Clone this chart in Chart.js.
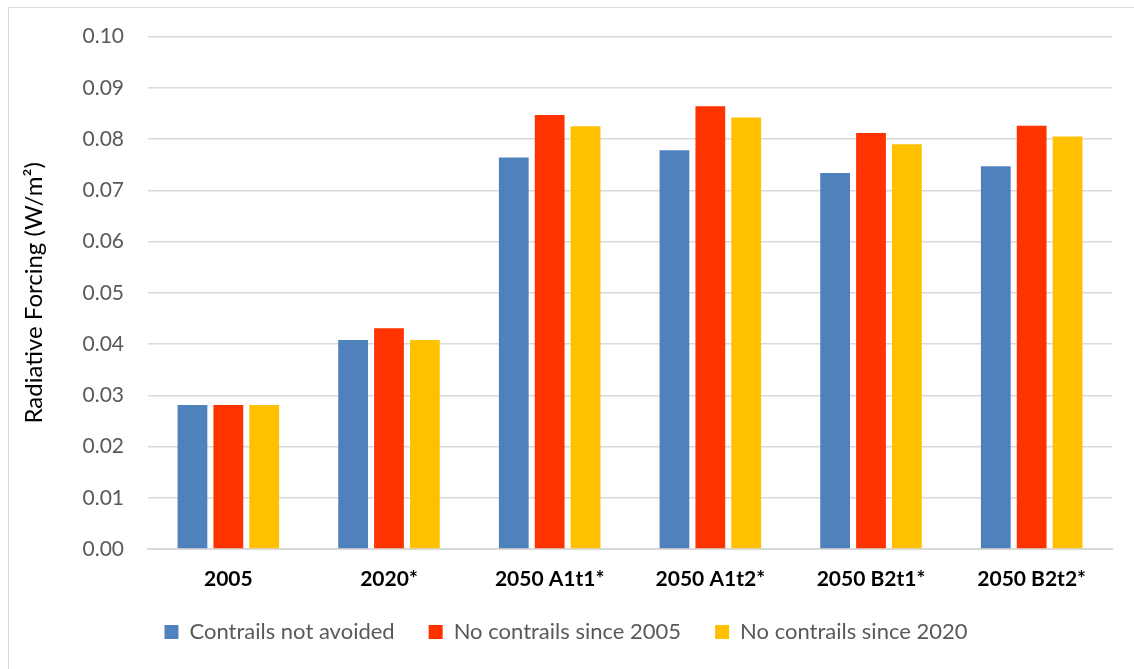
<!DOCTYPE html>
<html>
<head>
<meta charset="utf-8">
<script src="https://cdn.jsdelivr.net/npm/chart.js@4/dist/chart.umd.min.js"></script>
<style>
    html, body { margin: 0; padding: 0; background: #fff; }
    #wrap { position: relative; width: 1134px; height: 669px; overflow: hidden; }
    #frame {
        position: absolute; left: 8px; top: 7px; width: 1200px; height: 700px;
        border-left: 1.5px solid #D9D9D9; border-top: 1.5px solid #D9D9D9;
    }
    canvas { position: absolute; left: 0; top: 0; }
</style>
</head>
<body>
<div id="wrap">
    <div id="frame"></div>
    <canvas id="chart" width="1134" height="669"></canvas>
</div>
<script>
// Values (W/m2)
const categories = ['2005', '2020*', '2050 A1t1*', '2050 A1t2*', '2050 B2t1*', '2050 B2t2*'];
const notAvoided = [0.0281, 0.0408, 0.0764, 0.0778, 0.0734, 0.0747];
const noSince2005 = [0.0281, 0.0431, 0.0847, 0.0864, 0.0812, 0.0826];
const noSince2020 = [0.0281, 0.0408, 0.0825, 0.0842, 0.0790, 0.0805];
const yTicks = [0, 0.01, 0.02, 0.03, 0.04, 0.05, 0.06, 0.07, 0.08, 0.09, 0.10];

const FONT = 'Lato, "Open Sans", sans-serif';

function bars(label, data, color) {
    return {
        label: label,
        data: data,
        backgroundColor: color,
        borderWidth: 0,
        barPercentage: 0.83,
        categoryPercentage: 0.67
    };
}

const ctx = document.getElementById('chart').getContext('2d');
new Chart(ctx, {
    type: 'bar',
    data: {
        labels: categories,
        datasets: [
            bars('Contrails not avoided', notAvoided, '#4F81BD'),
            bars('No contrails since 2005', noSince2005, '#FF3300'),
            bars('No contrails since 2020', noSince2020, '#FFC000')
        ]
    },
    options: {
        responsive: false,
        animation: false,
        layout: {
            padding: { left: 20, right: 22, top: 27, bottom: 22 }
        },
        plugins: {
            legend: {
                position: 'bottom',
                maxHeight: 60,
                labels: {
                    boxWidth: 14,
                    boxHeight: 14,
                    padding: 34,
                    color: '#595959',
                    font: { family: FONT, size: 22 }
                }
            },
            tooltip: { enabled: false }
        },
        scales: {
            x: {
                // keep the label band tight so the legend sits close below it
                afterFit: axis => {
                    axis.height = 38;
                },
                grid: { display: false, drawTicks: false },
                border: { color: '#D9D9D9', width: 2 },
                ticks: {
                    color: '#000',
                    padding: 18,
                    font: { family: FONT, size: 21, weight: 'bold' }
                }
            },
            y: {
                min: 0,
                max: 0.1,
                afterBuildTicks: axis => {
                    axis.ticks = yTicks.map(v => ({ value: v }));
                },
                afterFit: axis => {
                    axis.width = 128;
                },
                grid: {
                    color: '#D9D9D9',
                    lineWidth: 1.5,
                    drawTicks: false
                },
                border: { display: false },
                ticks: {
                    color: '#595959',
                    padding: 24,
                    font: { family: FONT, size: 21 },
                    callback: v => v.toFixed(2)
                },
                title: {
                    display: true,
                    text: 'Radiative Forcing (W/m²)',
                    color: '#000',
                    padding: 0,
                    font: { family: FONT, size: 24 }
                }
            }
        }
    }
});
</script>
</body>
</html>
